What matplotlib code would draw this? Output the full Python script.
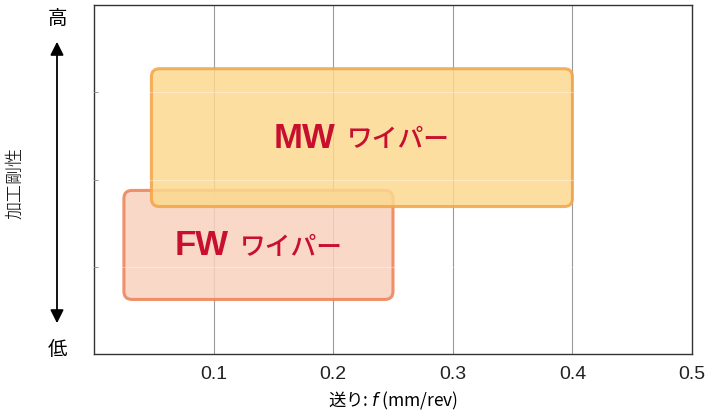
import matplotlib
matplotlib.use("Agg")
import matplotlib.pyplot as plt
from matplotlib.patches import FancyBboxPatch

JP = ['Noto Sans CJK JP', 'DejaVu Sans']
plt.rcParams['font.family'] = ['Liberation Sans', 'Noto Sans CJK JP', 'DejaVu Sans']

# Data
names = ["FW", "MW"]
suffix = "ワイパー"
feed_min = [0.025, 0.048]
feed_max = [0.25, 0.40]
rig_min = [0.625, 1.69]
rig_max = [1.875, 3.27]
face_colors = ["#F8D2BE", "#FBD98F"]
edge_colors = ["#EE8054", "#F4A445"]
xticks = [0.1, 0.2, 0.3, 0.4, 0.5]
xticklabels = ["0.1", "0.2", "0.3", "0.4", "0.5"]

fig = plt.figure(figsize=(7.11, 4.14), dpi=100)
ax = fig.add_axes([94/711, 59/414, 598/711, 349/414])
ax.set_xlim(0, 0.5)
ax.set_ylim(0, 4)

ax.set_xticks(xticks)
ax.set_xticklabels(xticklabels, fontsize=14)
ax.tick_params(axis='x', length=0, pad=8, colors='#222222')
ax.set_yticks([1, 2, 3])
ax.set_yticklabels([])
ax.tick_params(axis='y', direction='in', length=3, width=0.6, color='#444444')
for x in xticks[:-1]:
    ax.axvline(x, color='#9a9a9a', lw=0.8, zorder=1)
for s in ax.spines.values():
    s.set_color('#333333')
    s.set_linewidth(1.0)

# aspect for rounded corners
px_x = 598 / 0.5
px_y = 349 / 4
asp = px_x / px_y
r = 8 / px_x

labels = []
for i in range(len(names)):
    x0, x1 = feed_min[i], feed_max[i]
    y0, y1 = rig_min[i], rig_max[i]
    p = FancyBboxPatch((x0, y0), x1 - x0, y1 - y0,
                       boxstyle=f"round,pad=0,rounding_size={r}",
                       mutation_aspect=asp,
                       facecolor=face_colors[i], edgecolor=edge_colors[i],
                       linewidth=2.2, alpha=0.85, zorder=2 + i)
    ax.add_patch(p)
    cx = (x0 + x1) / 2
    cy = (y0 + y1) / 2
    t1 = ax.annotate(names[i], (cx, cy), xytext=(0, 0), textcoords='offset points',
                     ha='left', va='center', fontsize=25, fontweight='bold',
                     color='#C8102E', family=['Liberation Sans', 'DejaVu Sans'], zorder=10)
    t2 = ax.annotate(suffix, (cx, cy), xytext=(0, -1), textcoords='offset points',
                     ha='left', va='center', fontsize=18.5, fontweight='medium',
                     color='#C8102E', family=JP, zorder=10)
    labels.append((t1, t2))

for y in [1, 2, 3]:
    ax.axhline(y, color='white', lw=0.8, alpha=0.35, zorder=5)

ax.set_xlabel("送り: $f$ (mm/rev)", fontsize=12.5, labelpad=5, family=JP)

# left side labels
fig.text(57/711, 1 - 18/414, "高", fontsize=14, ha='center', va='center', family=JP)
fig.text(57/711, 1 - 350/414, "低", fontsize=14, ha='center', va='center', family=JP)
fig.text(15/711, 1 - 183/414, "加工剛性", fontsize=13, ha='center', va='center',
         rotation=90, family=JP, fontweight='light')
fig.patches.append(matplotlib.patches.FancyArrowPatch(
    (57/711, 1 - 40/414), (57/711, 1 - 327/414), transform=fig.transFigure,
    arrowstyle='<|-|>,head_length=5,head_width=2.5', color='black', lw=1.3,
    mutation_scale=1.6))

# center each two-part label in its box
fig.canvas.draw()
renderer = fig.canvas.get_renderer()
gap = 11.0
for t1, t2 in labels:
    w1 = t1.get_window_extent(renderer).width
    w2 = t2.get_window_extent(renderer).width
    total = w1 + gap + w2
    left = -total / 2
    t1.set_position((left * 72 / 100, 0))
    t2.set_position(((left + w1 + gap) * 72 / 100, -1))

fig.savefig("out.png", dpi=100)
